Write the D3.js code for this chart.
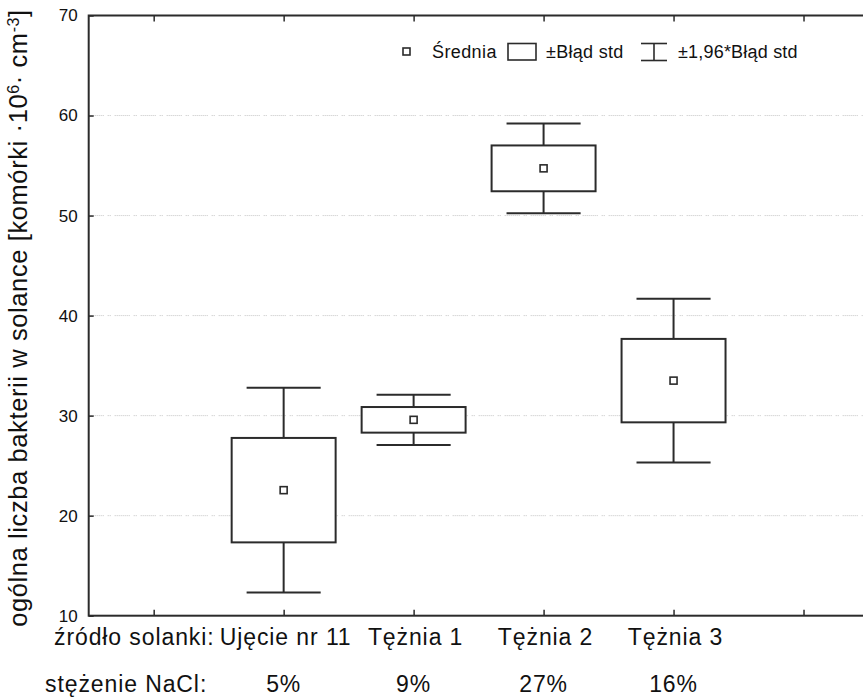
<!DOCTYPE html>
<html>
<head>
<meta charset="utf-8">
<script src="https://cdn.jsdelivr.net/npm/d3@7"></script>
<style>
  html, body { margin: 0; padding: 0; background: #fff; }
  svg { display: block; }
  text { font-family: Arial, "Liberation Sans", sans-serif; fill: #111; }
</style>
</head>
<body>
<svg id="chart" width="863" height="698"></svg>
<script>
// Bacteria counts per brine source: mean and standard error
const categories = ["Ujęcie nr 11", "Tężnia 1", "Tężnia 2", "Tężnia 3"];
const naclLabels = ["5%", "9%", "27%", "16%"];
const means = [22.55, 29.58, 54.72, 33.5];
const stdErrors = [5.22, 1.28, 2.29, 4.17];
const ciFactor = 1.96;
const yTicks = [10, 20, 30, 40, 50, 60, 70];
const xTickPositions = [1, 2, 3, 4, 5, 6];
const legendLabels = ["Średnia", "±Błąd std", "±1,96*Błąd std"];

const svg = d3.select("#chart");
const W = 863, H = 698;
const plot = { left: 88.7, right: 868.5, top: 15.5, bottom: 615.7 };

const x = d3.scaleLinear().domain([0.5, 6.5]).range([plot.left, plot.right]);
const y = d3.scaleLinear().domain([10, 70]).range([plot.bottom, plot.top]);

const ink = "#2b2b2b";

// horizontal dotted grid
svg.append("g")
  .selectAll("line")
  .data(yTicks.filter(v => v > 10 && v < 70))
  .join("line")
  .attr("x1", plot.left).attr("x2", W)
  .attr("y1", d => y(d)).attr("y2", d => y(d))
  .attr("stroke", "#c4c4c4")
  .attr("stroke-width", 1)
  .attr("stroke-dasharray", "1,1,1,1,1,1,1,1,1,1,1,1,1,1,1,4,1,1,1,4");

// y axis with inward ticks
const yAxis = d3.axisLeft(y).tickValues(yTicks).tickSizeInner(-5).tickSizeOuter(0).tickPadding(11);
const gy = svg.append("g").attr("transform", `translate(${plot.left},0)`).call(yAxis);
gy.select(".domain").remove();
gy.selectAll(".tick line").attr("stroke", ink).attr("stroke-width", 1.5);
gy.selectAll(".tick text").attr("font-size", 17).attr("fill", "#111")
  .attr("font-family", "Arial, 'Liberation Sans', sans-serif");

// bottom axis, ticks pointing up
const xAxisB = d3.axisBottom(x).tickValues(xTickPositions).tickSizeInner(-6).tickSizeOuter(0).tickFormat("");
const gxb = svg.append("g").attr("transform", `translate(0,${plot.bottom})`).call(xAxisB);
gxb.select(".domain").remove();
gxb.selectAll(".tick line").attr("stroke", ink).attr("stroke-width", 1.5);

// top axis, ticks pointing down
const xAxisT = d3.axisTop(x).tickValues(xTickPositions).tickSizeInner(-6).tickSizeOuter(0).tickFormat("");
const gxt = svg.append("g").attr("transform", `translate(0,${plot.top})`).call(xAxisT);
gxt.select(".domain").remove();
gxt.selectAll(".tick line").attr("stroke", ink).attr("stroke-width", 1.5);

// plot frame
svg.append("rect")
  .attr("x", plot.left).attr("y", plot.top)
  .attr("width", plot.right - plot.left).attr("height", plot.bottom - plot.top)
  .attr("fill", "none").attr("stroke", ink).attr("stroke-width", 2);

// box-and-whisker marks
const band = x(2) - x(1);
const boxW = band * 0.8;
const capW = band * 0.57;
const rows = categories.map((c, i) => ({
  name: c, pos: i + 2, mean: means[i], se: stdErrors[i]
}));

const g = svg.append("g");
rows.forEach(d => {
  const cx = x(d.pos);
  const hiBox = d.mean + d.se, loBox = d.mean - d.se;
  const hiW = d.mean + ciFactor * d.se, loW = d.mean - ciFactor * d.se;
  // whiskers
  g.append("line").attr("x1", cx).attr("x2", cx).attr("y1", y(hiW)).attr("y2", y(hiBox))
    .attr("stroke", ink).attr("stroke-width", 2);
  g.append("line").attr("x1", cx).attr("x2", cx).attr("y1", y(loBox)).attr("y2", y(loW))
    .attr("stroke", ink).attr("stroke-width", 2);
  g.append("line").attr("x1", cx - capW / 2).attr("x2", cx + capW / 2).attr("y1", y(hiW)).attr("y2", y(hiW))
    .attr("stroke", ink).attr("stroke-width", 2);
  g.append("line").attr("x1", cx - capW / 2).attr("x2", cx + capW / 2).attr("y1", y(loW)).attr("y2", y(loW))
    .attr("stroke", ink).attr("stroke-width", 2);
  // standard error box
  g.append("rect").attr("x", cx - boxW / 2).attr("y", y(hiBox))
    .attr("width", boxW).attr("height", y(loBox) - y(hiBox))
    .attr("fill", "#fff").attr("stroke", ink).attr("stroke-width", 2);
  // mean marker
  g.append("rect").attr("x", cx - 3.5).attr("y", y(d.mean) - 3.5)
    .attr("width", 7).attr("height", 7)
    .attr("fill", "#fff").attr("stroke", ink).attr("stroke-width", 1.6);
});

// legend
const lg = svg.append("g");
const legY = 58;
lg.append("rect").attr("x", 403).attr("y", 48).attr("width", 7).attr("height", 7)
  .attr("fill", "#fff").attr("stroke", ink).attr("stroke-width", 1.6);
lg.append("text").attr("x", 432).attr("y", legY).attr("font-size", 18).attr("letter-spacing", 0.4).text(legendLabels[0]);
lg.append("rect").attr("x", 508).attr("y", 43.5).attr("width", 28).attr("height", 16.5)
  .attr("fill", "#fff").attr("stroke", ink).attr("stroke-width", 1.6);
lg.append("text").attr("x", 546).attr("y", legY).attr("font-size", 18).attr("letter-spacing", 0.3).text(legendLabels[1]);
lg.append("line").attr("x1", 654).attr("x2", 654).attr("y1", 43.5).attr("y2", 60.5)
  .attr("stroke", ink).attr("stroke-width", 1.6);
lg.append("line").attr("x1", 641).attr("x2", 667).attr("y1", 43.5).attr("y2", 43.5)
  .attr("stroke", ink).attr("stroke-width", 1.6);
lg.append("line").attr("x1", 641).attr("x2", 667).attr("y1", 60.5).attr("y2", 60.5)
  .attr("stroke", ink).attr("stroke-width", 1.6);
lg.append("text").attr("x", 678).attr("y", legY).attr("font-size", 18).attr("letter-spacing", 0.2).text(legendLabels[2]);

// category rows under the axis
const row1Y = 645, row2Y = 692;
const rowFont = 23, rowSpacing = 0.9;
svg.append("text").attr("x", 54).attr("y", row1Y).attr("font-size", rowFont)
  .attr("letter-spacing", rowSpacing).text("źródło solanki:");
svg.append("text").attr("x", 45).attr("y", row2Y).attr("font-size", rowFont)
  .attr("letter-spacing", rowSpacing).text("stężenie NaCl:");
svg.append("g").selectAll("text").data(rows).join("text")
  .attr("x", d => x(d.pos) + 2).attr("y", row1Y)
  .attr("text-anchor", "middle").attr("font-size", rowFont).attr("letter-spacing", rowSpacing)
  .text(d => d.name);
svg.append("g").selectAll("text").data(naclLabels).join("text")
  .attr("x", (d, i) => x(i + 2)).attr("y", row2Y)
  .attr("text-anchor", "middle").attr("font-size", rowFont).attr("letter-spacing", rowSpacing)
  .text(d => d);

// y axis title
const yt = svg.append("text")
  .attr("transform", `translate(27,318) rotate(-90)`)
  .attr("text-anchor", "middle").attr("font-size", 25.5).attr("letter-spacing", 0.6);
yt.append("tspan").text("ogólna liczba bakterii w solance [komórki ·10");
yt.append("tspan").attr("baseline-shift", "super").attr("font-size", 16).text("6");
yt.append("tspan").text("· cm");
yt.append("tspan").attr("baseline-shift", "super").attr("font-size", 16).text("-3");
yt.append("tspan").text("]");
</script>
</body>
</html>
